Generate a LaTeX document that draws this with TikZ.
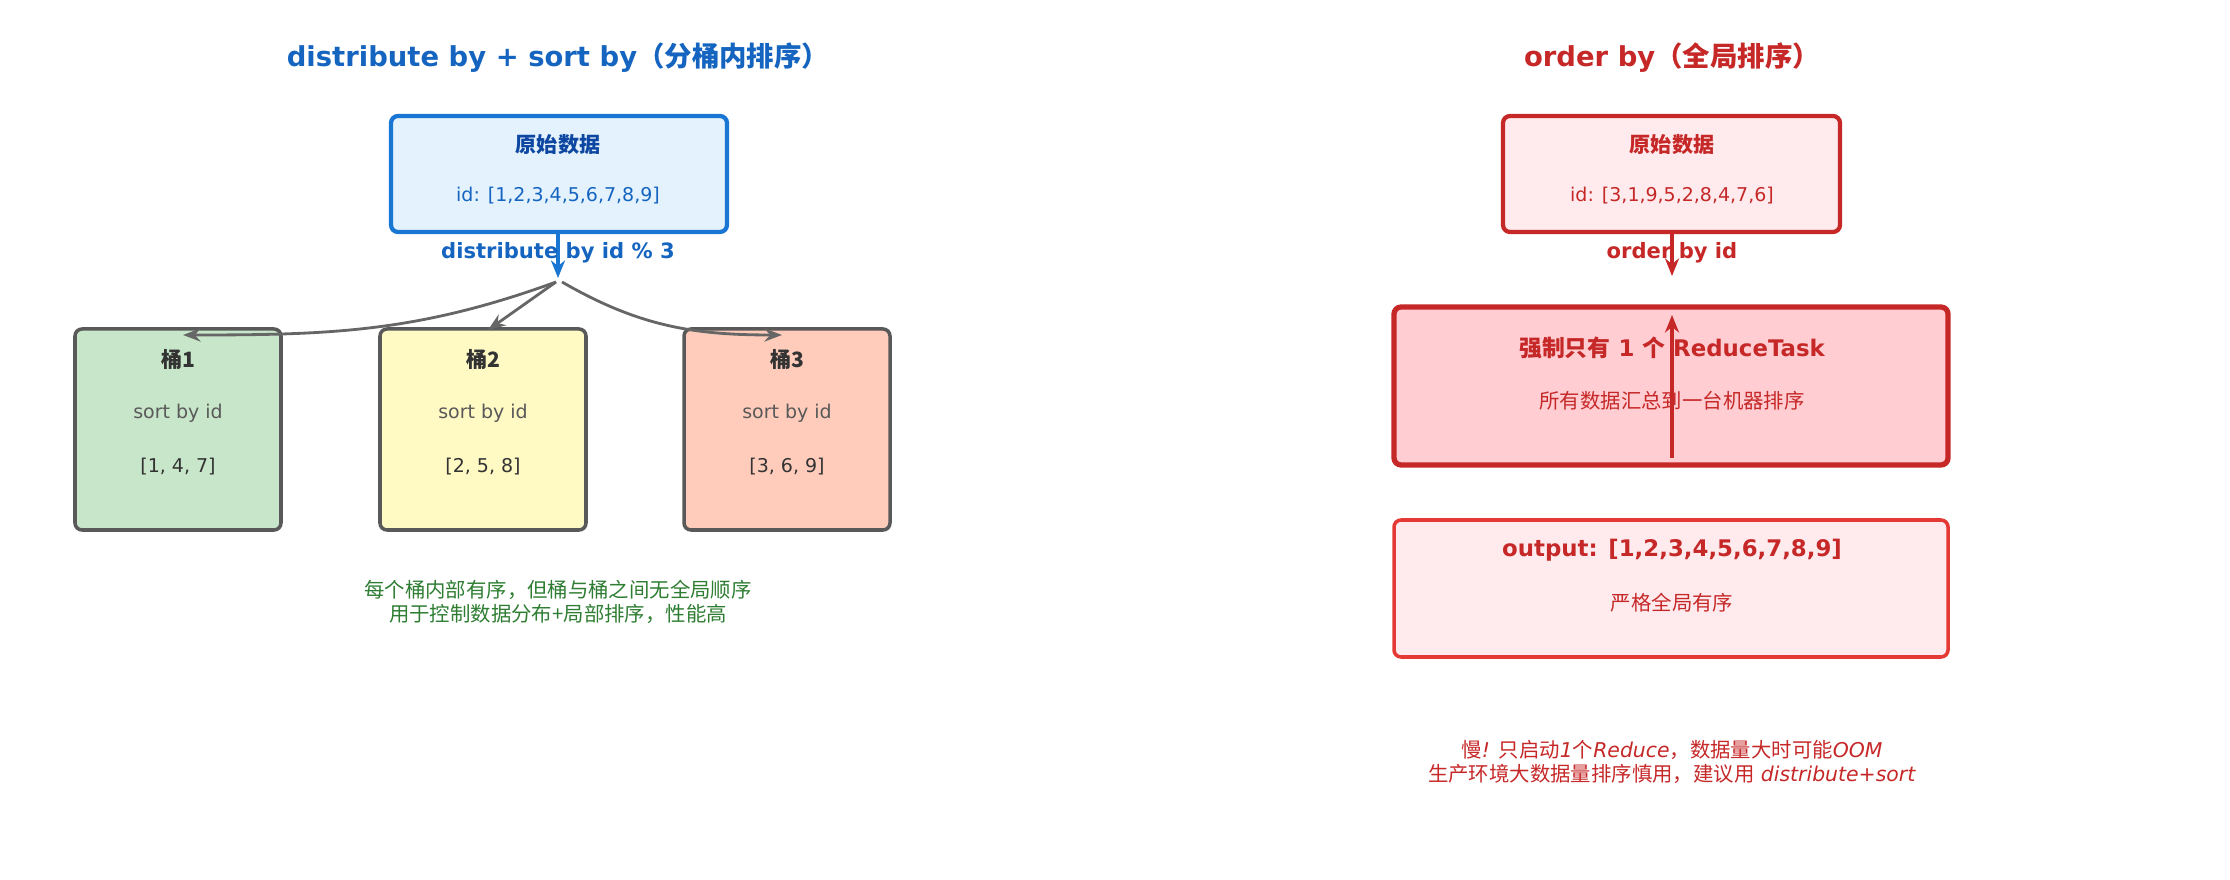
\documentclass[tikz,border=0pt]{standalone}
\usepackage{fontspec}
\setmainfont{DejaVu Sans}
\newfontfamily\cjk{Noto Sans CJK SC}
\usetikzlibrary{arrows.meta}
\definecolor{bl}{HTML}{1565C0}
\definecolor{dbl}{HTML}{0D47A1}
\definecolor{rd}{HTML}{C62828}
\definecolor{gr}{HTML}{2E7D32}
\begin{document}
\begin{tikzpicture}[x=0.01cm,y=-0.01cm,
 box/.style={draw,rounded corners=2pt,line width=1.2pt},
 bk/.style={box,draw=black!65,line width=1pt},
 t/.style={font=\fontsize{5.4}{6}\selectfont},
 tb/.style={font=\fontsize{6}{7}\selectfont\bfseries},
 ar/.style={-{Stealth[length=5pt,width=4pt]},line width=1.3pt},
 ga/.style={-{Stealth[length=5pt,open]},draw=black!60,line width=0.8pt}]
\useasboundingbox (0,0) rectangle (2230,880);
\node[font=\fontsize{7.8}{9}\selectfont\bfseries,text=bl] (tl) at (558,58) {distribute by + sort by{\cjk（分桶内排序）}};
\node[font=\fontsize{7.8}{9}\selectfont\bfseries,text=rd] (tr) at (1672,58) {order by{\cjk（全局排序）}};
% left
\draw[box,draw={rgb,255:red,25;green,118;blue,210},fill={rgb,255:red,227;green,242;blue,253}] (391,116) rectangle (727,232);
\node[tb,text=dbl] (s1) at (558,145) {\cjk 原始数据};
\node[t,text=bl] (s2) at (558,196) {id: [1,2,3,4,5,6,7,8,9]};
\coordinate (sb) at (558,232);
\coordinate (hub) at (558,278);
\draw[ar,draw={rgb,255:red,25;green,118;blue,210}] (sb) -- (hub);
\node[tb,text=bl] (dl) at (558,253) {distribute by id \% 3};
\foreach \i/\x/\c/\v in {1/178/C8E6C9/{[1, 4, 7]},2/483/FFF9C4/{[2, 5, 8]},3/787/FFCCBC/{[3, 6, 9]}}{
 \definecolor{bc}{HTML}{\c}
 \draw[bk,fill=bc] (\x-103,329) rectangle (\x+103,530);
 \node[tb,text=black!80] (b\i) at (\x,359) {\cjk 桶\i};
 \node[t,text=black!65] (s\i) at (\x,413) {sort by id};
 \node[t,text=black!80] (v\i) at (\x,467) {\v};
}
\coordinate (h1) at (556,282);\coordinate (h2) at (562,282);
\draw[ga] (h1) to[out=-160,in=0] (183,335);
\draw[ga] (h1) -- (488,330);
\draw[ga] (h2) to[out=-30,in=180] (782,335);
\node[text=gr,align=center,font=\cjk\fontsize{5.8}{6.6}\selectfont] (gn) at (558,602) {每个桶内部有序，但桶与桶之间无全局顺序\\用于控制数据分布+局部排序，性能高};
% right
\draw[box,draw=rd,fill={rgb,255:red,255;green,235;blue,238}] (1503,116) rectangle (1840,232);
\node[tb,text=rd] (r1) at (1672,145) {\cjk 原始数据};
\node[t,text=rd] (r2) at (1672,196) {id: [3,1,9,5,2,8,4,7,6]};
\coordinate (rb) at (1672,232);\coordinate (rh) at (1672,276);
\draw[ar,draw=rd] (rb) -- (rh);
\node[tb,text=rd] (ol) at (1672,253) {order by id};
\draw[box,draw=rd,line width=1.5pt,fill={rgb,255:red,255;green,205;blue,210}] (1394,307) rectangle (1948,465);
\node[font=\fontsize{6.5}{7}\selectfont\bfseries,text=rd] (fr) at (1672,348) {{\cjk 强制只有} 1 {\cjk 个} ReduceTask};
\node[text=rd,font=\cjk\fontsize{5.8}{7}\selectfont] (fr2) at (1672,401) {所有数据汇总到一台机器排序};
\coordinate (ua) at (1672,458);\coordinate (ub) at (1672,315);
\draw[ar,draw=rd] (ua) -- (ub);
\draw[box,draw={rgb,255:red,229;green,57;blue,53},line width=1pt,fill={rgb,255:red,255;green,235;blue,238}] (1394,520) rectangle (1948,657);
\node[font=\fontsize{6.5}{7}\selectfont\bfseries,text=rd] (o1) at (1672,550) {output: [1,2,3,4,5,6,7,8,9]};
\node[text=rd,font=\cjk\fontsize{5.8}{7}\selectfont] (o2) at (1672,603) {严格全局有序};
\node[text=rd,align=center,font=\fontsize{5.8}{6.6}\selectfont] (rn) at (1672,762) {{\cjk 慢}\textit{!} {\cjk 只启动}\textit{1}{\cjk 个}\textit{Reduce}{\cjk ，数据量大时可能}\textit{OOM}\\{\cjk 生产环境大数据量排序慎用，建议用} \textit{distribute+sort}};
\end{tikzpicture}
\end{document}
